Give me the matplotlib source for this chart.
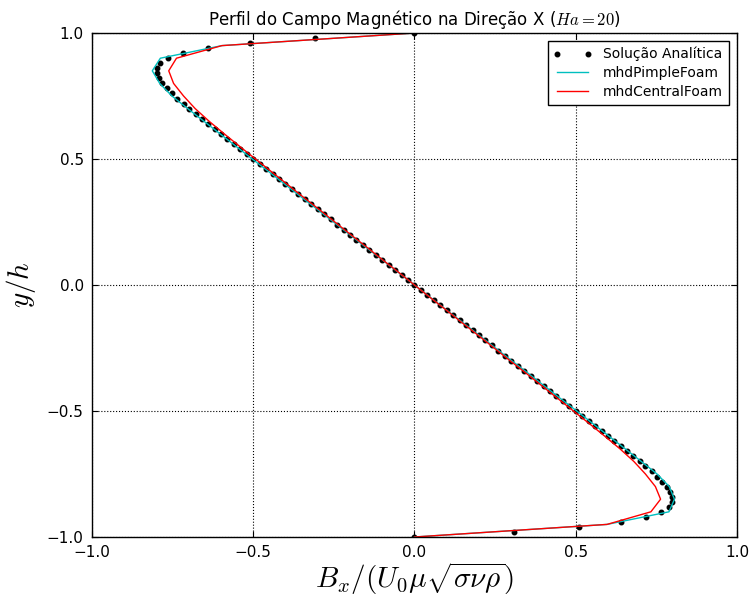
import matplotlib
matplotlib.use("Agg")
import matplotlib.pyplot as plt
import numpy as np

plt.rcParams['mathtext.fontset'] = 'cm'
plt.rcParams['font.family'] = ['DejaVu Sans']

# Analytical solution (y step 0.02 from 1 to -1)
y_analytic = [1.00, 0.98, 0.96, 0.94, 0.92, 0.90, 0.88, 0.86, 0.84, 0.82,
              0.80, 0.78, 0.76, 0.74, 0.72, 0.70, 0.68, 0.66, 0.64, 0.62,
              0.60, 0.58, 0.56, 0.54, 0.52, 0.50, 0.48, 0.46, 0.44, 0.42,
              0.40, 0.38, 0.36, 0.34, 0.32, 0.30, 0.28, 0.26, 0.24, 0.22,
              0.20, 0.18, 0.16, 0.14, 0.12, 0.10, 0.08, 0.06, 0.04, 0.02,
              0.00,
              -0.02, -0.04, -0.06, -0.08, -0.10, -0.12, -0.14, -0.16, -0.18, -0.20,
              -0.22, -0.24, -0.26, -0.28, -0.30, -0.32, -0.34, -0.36, -0.38, -0.40,
              -0.42, -0.44, -0.46, -0.48, -0.50, -0.52, -0.54, -0.56, -0.58, -0.60,
              -0.62, -0.64, -0.66, -0.68, -0.70, -0.72, -0.74, -0.76, -0.78, -0.80,
              -0.82, -0.84, -0.86, -0.88, -0.90, -0.92, -0.94, -0.96, -0.98, -1.00]
b_analytic = [0.000, -0.310, -0.511, -0.639, -0.718, -0.765, -0.789, -0.799, -0.799, -0.793,
              -0.782, -0.768, -0.752, -0.735, -0.716, -0.698, -0.678, -0.659, -0.639, -0.620,
              -0.600, -0.580, -0.560, -0.540, -0.520, -0.500, -0.480, -0.460, -0.440, -0.420,
              -0.400, -0.380, -0.360, -0.340, -0.320, -0.300, -0.280, -0.260, -0.240, -0.220,
              -0.200, -0.180, -0.160, -0.140, -0.120, -0.100, -0.080, -0.060, -0.040, -0.020,
              0.000,
              0.020, 0.040, 0.060, 0.080, 0.100, 0.120, 0.140, 0.160, 0.180, 0.200,
              0.220, 0.240, 0.260, 0.280, 0.300, 0.320, 0.340, 0.360, 0.380, 0.400,
              0.420, 0.440, 0.460, 0.480, 0.500, 0.520, 0.540, 0.560, 0.580, 0.600,
              0.620, 0.639, 0.659, 0.678, 0.698, 0.716, 0.735, 0.752, 0.768, 0.782,
              0.793, 0.799, 0.799, 0.789, 0.765, 0.718, 0.639, 0.511, 0.310, 0.000]

# Simulation results (y step 0.05)
y_sim = [1.00, 0.95, 0.90, 0.85, 0.80, 0.75, 0.70, 0.65, 0.60, 0.55, 0.50,
         0.45, 0.40, 0.35, 0.30, 0.25, 0.20, 0.15, 0.10, 0.05, 0.00,
         -0.05, -0.10, -0.15, -0.20, -0.25, -0.30, -0.35, -0.40, -0.45, -0.50,
         -0.55, -0.60, -0.65, -0.70, -0.75, -0.80, -0.85, -0.90, -0.95, -1.00]
b_pimple = [0.000, -0.597, -0.788, -0.813, -0.790, -0.752, -0.703, -0.653, -0.603, -0.553, -0.503,
            -0.452, -0.402, -0.352, -0.301, -0.251, -0.201, -0.151, -0.100, -0.050, 0.000,
            0.050, 0.100, 0.151, 0.201, 0.251, 0.301, 0.352, 0.402, 0.452, 0.503,
            0.553, 0.603, 0.653, 0.703, 0.752, 0.790, 0.806, 0.789, 0.597, 0.000]
b_central = [0.000, -0.597, -0.738, -0.762, -0.747, -0.716, -0.680, -0.637, -0.590, -0.542, -0.493,
             -0.444, -0.395, -0.346, -0.296, -0.247, -0.198, -0.148, -0.099, -0.049, 0.000,
             0.049, 0.099, 0.148, 0.198, 0.247, 0.296, 0.346, 0.395, 0.444, 0.493,
             0.542, 0.590, 0.637, 0.680, 0.716, 0.747, 0.763, 0.733, 0.597, 0.000]

ticks = [-1.0, -0.5, 0.0, 0.5, 1.0]
tick_labels = ['\u22121.0', '\u22120.5', '0.0', '0.5', '1.0']

fig = plt.figure(figsize=(7.49, 5.98), dpi=100)
ax = fig.add_axes([0.1228, 0.102, 0.8612, 0.8428])

ax.plot(b_analytic, y_analytic, 'k.', markersize=6.5, label='Solução Analítica')
ax.plot(b_pimple, y_sim, color='c', linewidth=1.0, label='mhdPimpleFoam')
ax.plot(b_central, y_sim, color='r', linewidth=1.0, label='mhdCentralFoam')

ax.set_xlim(-1, 1)
ax.set_ylim(-1, 1)
ax.set_xticks(ticks)
ax.set_xticklabels(tick_labels)
ax.set_yticks(ticks)
ax.set_yticklabels(tick_labels)
ax.tick_params(direction='in', top=True, right=True, labelsize=11, length=4, pad=6)
ax.grid(True, color='k', linestyle=':', linewidth=0.8)
for s in ax.spines.values():
    s.set_linewidth(1.0)

ax.set_title('Perfil do Campo Magnético na Direção X ($Ha=20$)', fontsize=12)
ax.set_xlabel(r'$B_x/(U_0\mu\sqrt{\sigma\nu\rho})$', fontsize=21, labelpad=0)
ax.set_ylabel(r'$y/h$', fontsize=21, labelpad=6)

leg = ax.legend(loc='upper right', numpoints=2, fontsize=10, fancybox=False,
                framealpha=1, edgecolor='k', borderaxespad=0.6, handlelength=2.8,
                labelspacing=0.35)
leg.get_frame().set_linewidth(1.0)

fig.savefig('out.png', dpi=100, facecolor='white')
